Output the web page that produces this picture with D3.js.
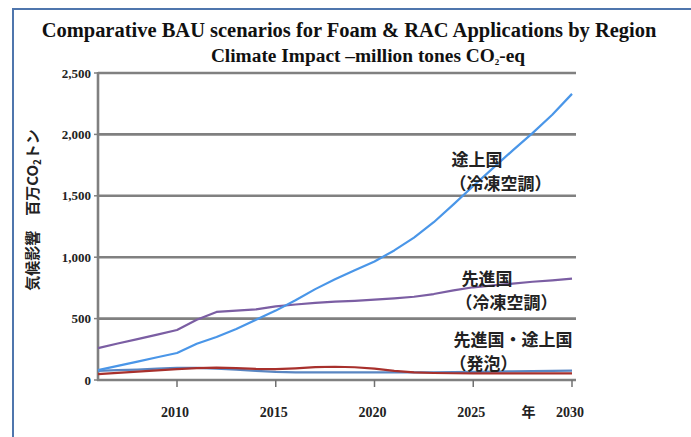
<!DOCTYPE html>
<html><head><meta charset="utf-8">
<script src="https://cdn.jsdelivr.net/npm/d3@7/dist/d3.min.js"></script>
<style>body{margin:0;background:#fff}svg{display:block}</style>
</head><body>
<svg id="c" width="691" height="437"></svg>
<script>
// ---- data ----
const years = [2006,2007,2008,2009,2010,2011,2012,2013,2014,2015,2016,2017,2018,2019,2020,2021,2022,2023,2024,2025,2026,2027,2028,2029,2030];
const developingRAC = [80,115,150,185,220,295,350,415,490,565,650,740,820,893,965,1055,1160,1285,1430,1580,1725,1870,2010,2160,2330];
const developedRAC  = [260,297,333,370,407,490,554,565,575,600,615,628,638,645,655,665,678,700,730,755,770,785,800,812,825];
const foamA = [75,80,85,92,98,98,92,85,75,66,62,62,62,62,62,62,62,62,64,66,68,70,72,74,76];
const foamB = [48,58,68,78,88,96,100,96,90,88,95,105,108,104,92,75,62,57,55,54,54,54,54,54,54];
const yTicks = [0,500,1000,1500,2000,2500];
const yTickLabels = ["0","500","1,000","1,500","2,000","2,500"];
const xTicks = [2010,2015,2020,2025,2030];
const xTickLabels = ["2010","2015","2020","2025","2030"];
const title = "Comparative BAU scenarios for Foam & RAC Applications by Region";
const yTitleParts = ["気候影響　百万CO","2","トン"];

const svg = d3.select("#c");
const serif = "'Liberation Serif','Times New Roman',serif";
const cjk = "'Noto Sans CJK JP','Noto Sans CJK SC',sans-serif";

// frame
svg.append("path").attr("d","M13,437 L13,9 L691,9").attr("fill","none").attr("stroke","#4f76ad").attr("stroke-width",2);

const x = d3.scaleLinear().domain([2006,2030]).range([98,572]);
const y = d3.scaleLinear().domain([0,2500]).range([380,73]);
const gridRight = x.range()[1] + 4;

// grid
svg.append("g").selectAll("line").data(yTicks.filter(d=>d>0)).join("line")
  .attr("x1",x.range()[0]).attr("x2",gridRight)
  .attr("y1",d=>y(d)).attr("y2",d=>y(d))
  .attr("stroke","#808080").attr("stroke-width",2.6);

// y axis line + labels
svg.append("line").attr("x1",x.range()[0]).attr("x2",x.range()[0]).attr("y1",y(2500)-1).attr("y2",y(0)+1)
  .attr("stroke","#808080").attr("stroke-width",2.6);
svg.append("g").selectAll("line").data(yTicks).join("line")
  .attr("x1",x.range()[0]-4).attr("x2",x.range()[0]).attr("y1",d=>y(d)).attr("y2",d=>y(d))
  .attr("stroke","#808080").attr("stroke-width",1.5);
svg.append("g").selectAll("text").data(yTicks).join("text")
  .attr("x",x.range()[0]-7).attr("y",d=>y(d)+4.5).attr("text-anchor","end")
  .attr("font-family",serif).attr("font-weight","bold").attr("font-size",13).attr("fill","#222")
  .text((d,i)=>yTickLabels[i]);

// x axis
svg.append("line").attr("x1",x.range()[0]-1).attr("x2",gridRight).attr("y1",y(0)).attr("y2",y(0))
  .attr("stroke","#808080").attr("stroke-width",2.6);
svg.append("g").selectAll("line").data(xTicks).join("line")
  .attr("x1",d=>x(d)).attr("x2",d=>x(d)).attr("y1",y(0)).attr("y2",y(0)+7)
  .attr("stroke","#707070").attr("stroke-width",1.5);
svg.append("g").selectAll("text").data(xTicks).join("text")
  .attr("x",d=>x(d)-2).attr("y",417).attr("text-anchor","middle")
  .attr("font-family",serif).attr("font-weight","bold").attr("font-size",14).attr("fill","#222")
  .text((d,i)=>xTickLabels[i]);
svg.append("text").attr("x",x(2027.8)).attr("y",417).attr("text-anchor","middle")
  .attr("font-family",cjk).attr("font-weight","bold").attr("font-size",14).attr("fill","#222").text("年");

// lines
const line = d3.line().x((d,i)=>x(years[i])).y(d=>y(d));
const series = [
  {v:foamA, c:"#5a86c2"},
  {v:foamB, c:"#a8302c"},
  {v:developedRAC, c:"#7b5ea3"},
  {v:developingRAC, c:"#4a96e8"}
];
svg.append("g").selectAll("path").data(series).join("path")
  .attr("d",d=>line(d.v)).attr("fill","none").attr("stroke",d=>d.c).attr("stroke-width",2.2)
  .attr("stroke-linejoin","round");

// titles
const t = svg.append("text").attr("x",349).attr("y",37).attr("text-anchor","middle")
  .attr("font-family",serif).attr("font-weight","bold").attr("font-size",18).attr("fill","#111").text(title);
const tw = t.node().getComputedTextLength();
t.attr("font-size", 18*615/tw);

const st = svg.append("text").attr("x",368).attr("y",62).attr("text-anchor","middle")
  .attr("font-family",serif).attr("font-weight","bold").attr("font-size",14).attr("fill","#111");
st.append("tspan").text("Climate Impact –million tones CO");
st.append("tspan").attr("font-size",9).attr("dy",3).text("2");
st.append("tspan").attr("dy",-3).text("-eq");
const sw = st.node().getComputedTextLength();
st.attr("font-size", 14*316/sw);

// y title
const yt = svg.append("text").attr("transform","translate(38,210) rotate(-90)").attr("text-anchor","middle")
  .attr("font-family",cjk).attr("font-weight","bold").attr("font-size",15).attr("fill","#222");
yt.append("tspan").text(yTitleParts[0]);
yt.append("tspan").attr("font-size",10).attr("dy",3).text(yTitleParts[1]);
yt.append("tspan").attr("dy",-3).text(yTitleParts[2]);

// annotations
function note(lines, xv, yv){
  const g = svg.append("text").attr("font-family",cjk).attr("font-weight","bold").attr("font-size",17).attr("fill","#222");
  lines.forEach((s,i)=>g.append("tspan").attr("x",x(xv[i])).attr("y",y(yv)+i*24).text(s));
}
note(["途上国","（冷凍空調）"],[2023.9,2023.8],1745);
note(["先進国","（冷凍空調）"],[2024.4,2024.1],770);
note(["先進国・途上国","（発泡）"],[2024.0,2023.8],280);
</script>
</body></html>
